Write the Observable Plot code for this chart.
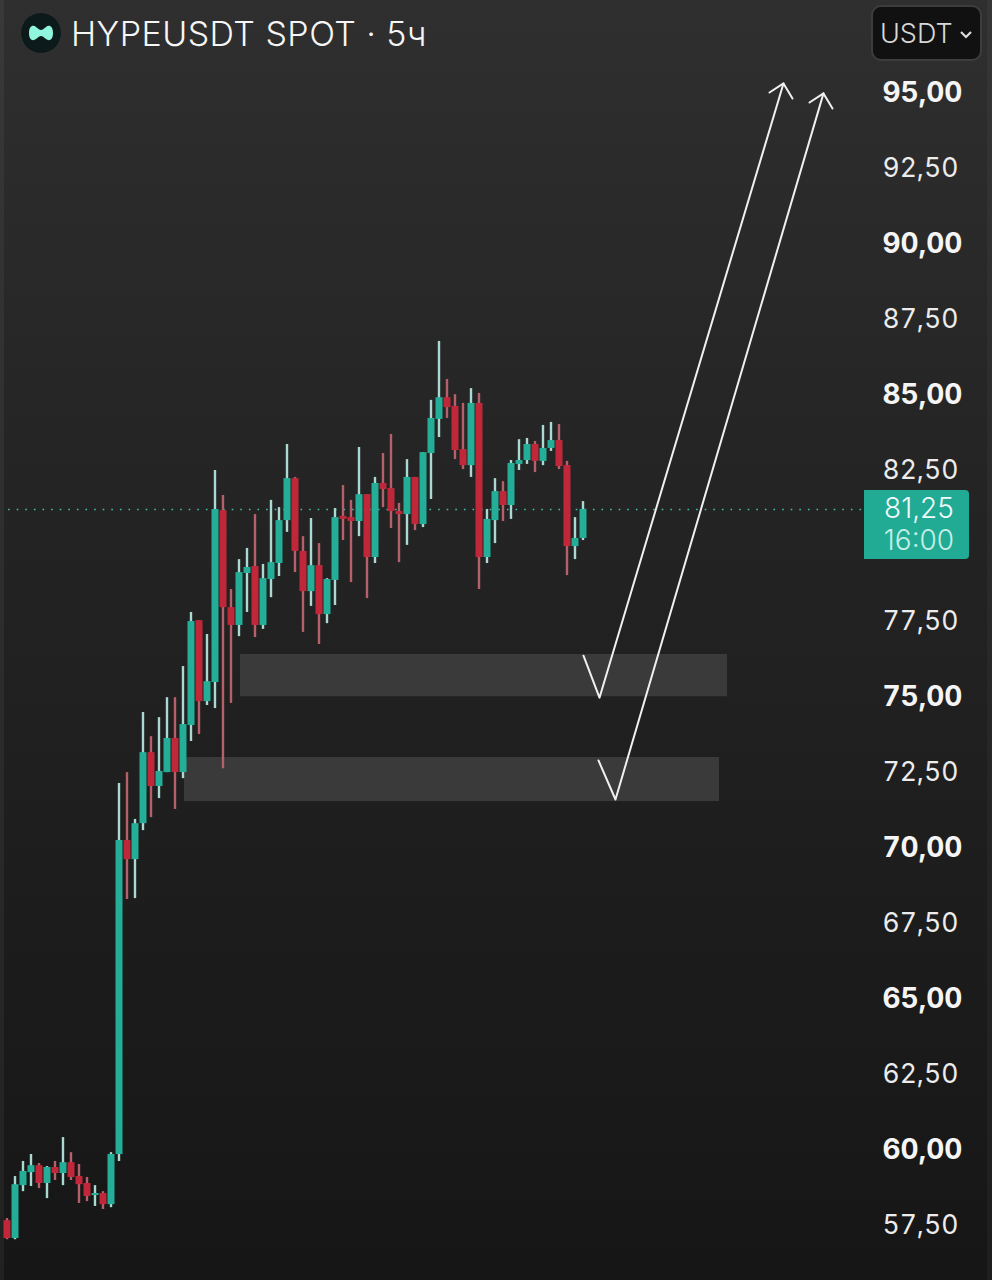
<!DOCTYPE html>
<html><head><meta charset="utf-8">
<script src="https://cdn.jsdelivr.net/npm/d3@7"></script>
<script src="https://cdn.jsdelivr.net/npm/@observablehq/plot@0.6"></script>
<style>
html,body{margin:0;padding:0;background:#1c1c1c}
#wrap{position:relative;width:992px;height:1280px;overflow:hidden;background:linear-gradient(180deg,#2f2f2f 0%,#262626 30%,#1f1f1f 60%,#161616 100%);font-family:Inter,"Noto Sans",sans-serif}
#chart svg{display:block;background:transparent!important}
.abs{position:absolute;white-space:nowrap}
</style></head><body>
<div id="wrap">
<div class="abs" style="left:0;top:0;width:4px;height:1280px;background:rgba(255,255,255,.05)"></div>
<div class="abs" style="left:987px;top:0;width:5px;height:1280px;background:rgba(255,255,255,.035)"></div>
<div id="chart" style="position:relative"></div>
<svg class="abs" style="left:20px;top:12px" width="42" height="42" viewBox="0 0 42 42"><circle cx="21" cy="21" r="20.5" fill="#0d1a1c" stroke="#333" stroke-width="1"/><path d="M9 21C9 14 13 12.500 16 15C18.500 17 19.500 18 21 18C22.500 18 23.500 17 26 15C29 12.500 33 14 33 21C33 28 29 29.500 26 27C23.500 25 22.500 24 21 24C19.500 24 18.500 25 16 27C13 29.500 9 28 9 21Z" fill="#8ff5dc"/></svg>
<div class="abs" id="title" style="left:71px;top:13px;font-size:34px;line-height:42px;font-weight:300;letter-spacing:.45px;color:#f6f6f6">HYPEUSDT SPOT · 5ч</div>
<div class="abs" style="left:871px;top:5px;width:107px;height:52px;background:#111;border:2px solid #3d3d3d;border-radius:10px;color:#d8d8d8;font-size:27px;line-height:54px;box-sizing:content-box;font-weight:300"><span style="margin-left:7px">USDT</span><svg style="position:absolute;left:86px;top:23px" width="14" height="10" viewBox="0 0 14 10"><path d="M2 2L7 7L12 2" fill="none" stroke="#ddd" stroke-width="2.2"/></svg></div>
<div class="abs" style="left:864px;top:490px;width:105px;height:69px;background:#22ab94;border-radius:0 4px 4px 0;text-align:center">
<div style="font-size:28px;line-height:34px;color:#f2fbf9;padding-top:1px;font-weight:300;margin-left:5px">81,25</div>
<div style="font-size:28px;line-height:30px;color:#c5efe6;font-weight:300;margin-left:5px">16:00</div></div>
</div>
<script>
const open=[57.66,57.07,58.82,59.25,59.48,58.89,59.42,59.22,59.58,59.12,58.89,58.49,58.56,58.19,59.85,70.24,69.61,70.80,73.15,72.03,72.49,73.62,72.49,74.05,77.52,74.84,75.47,81.16,77.95,77.36,79.08,79.31,77.36,78.88,79.41,80.83,82.22,79.81,78.48,79.34,77.72,78.85,80.97,80.93,80.80,81.69,79.61,82.06,81.89,81.13,81.03,82.26,80.70,83.05,84.18,84.90,84.61,83.18,82.65,84.71,79.61,80.83,81.79,81.33,82.69,82.82,83.35,82.79,83.22,83.48,82.65,79.97,80.24];
const high=[57.73,59.12,59.62,59.85,59.55,59.45,59.62,60.41,59.91,59.52,59.09,58.82,58.62,59.91,72.13,72.49,70.94,74.48,73.68,74.31,74.97,74.97,76.00,77.79,77.52,77.06,82.49,81.66,78.55,79.54,79.91,81.03,79.38,81.50,81.26,83.35,82.26,80.30,80.90,80.07,78.91,81.23,81.99,81.50,83.25,81.69,82.26,83.05,83.68,81.40,82.85,82.26,83.08,84.81,86.76,85.50,85.00,84.71,85.20,85.04,81.20,82.22,82.12,82.82,83.51,83.55,83.45,83.98,84.08,84.01,82.79,80.93,81.46];
const low=[57.03,57.03,58.62,58.79,58.72,58.39,58.99,58.82,58.99,58.23,58.29,58.13,58.03,58.09,59.62,68.29,68.32,70.57,71.00,71.63,72.49,71.27,72.29,73.52,73.75,74.71,74.61,72.62,74.78,76.99,77.79,76.96,77.23,78.28,78.98,80.44,79.11,77.13,77.99,76.73,77.42,78.02,80.17,78.78,80.30,78.25,79.41,81.26,80.57,79.44,80.01,80.50,80.60,81.53,83.58,84.21,82.85,82.52,82.26,78.55,79.41,80.07,80.80,80.87,82.49,82.69,82.42,82.65,83.12,82.52,79.01,79.54,80.17];
const close=[57.07,58.85,59.29,59.48,58.89,59.42,59.22,59.58,59.09,58.85,58.46,58.56,58.19,59.85,70.24,69.61,70.80,73.15,72.03,72.53,73.62,72.49,74.08,77.49,74.84,75.50,81.20,77.95,77.36,79.11,79.28,77.36,78.91,79.44,80.83,82.22,79.81,78.48,79.34,77.72,78.88,80.93,80.87,80.80,81.69,79.61,82.06,81.86,81.13,81.03,82.26,80.70,83.08,84.21,84.90,84.57,83.15,82.65,84.71,79.61,80.87,81.79,81.33,82.72,82.82,83.35,82.79,83.22,83.48,82.62,79.97,80.24,81.20];
const majorTicks=[60,65,70,75,85,90,95];
const minorTicks=[57.5,62.5,67.5,72.5,77.5,82.5,87.5,92.5];
const lastPrice=81.2;
const zones=[{x1:29.19,x2:90.06,y1:75.0,y2:76.4},{x1:22.19,x2:89.06,y1:71.53,y2:72.99}];
const arrowPaths=[
 {id:"a",x:[72.06,74.06,97.06],y:[76.36,74.97,95.30]},
 {id:"ah",x:[95.31,97.06,98.19],y:[95.00,95.30,94.80]},
 {id:"b",x:[73.94,76.06,102.06],y:[72.89,71.60,94.97]},
 {id:"bh",x:[100.31,102.06,103.19],y:[94.67,94.97,94.47]}
];
const candles=open.map((o,i)=>({i,o,h:high[i],l:low[i],c:close[i],up:close[i]>=o}));
const arrowPts=arrowPaths.flatMap(p=>p.x.map((x,k)=>({id:p.id,x,y:p.y[k]})));
const fmt=v=>v.toFixed(2).replace(".",",");
const plot=Plot.plot({
 width:992,height:1280,marginTop:0,marginBottom:0,marginLeft:0,marginRight:110,
 style:{background:"transparent",fontFamily:"Inter, 'Noto Sans', sans-serif"},
 x:{domain:[0,72],range:[6.5,582.5],axis:null},
 y:{domain:[57.5,95],range:[1225,92],axis:null},
 marks:[
  Plot.rect(zones,{x1:"x1",x2:"x2",y1:"y1",y2:"y2",fill:"#3a3a3a"}),
  Plot.ruleY([lastPrice],{x1:0.2,x2:106.9,stroke:"#45c0aa",strokeWidth:1.6,strokeDasharray:"1.6 7"}),
  Plot.ruleX(candles,{x:"i",y1:"l",y2:"h",stroke:d=>d.up?"#a9d9d1":"#b5606b",strokeWidth:2.4}),
  Plot.ruleX(candles,{x:"i",y1:"o",y2:"c",stroke:d=>d.up?"#24ae97":"#c0283a",strokeWidth:7}),
  Plot.line(arrowPts,{x:"x",y:"y",z:"id",stroke:"#f0f0f0",strokeWidth:2,curve:"linear"}),
  Plot.axisY({anchor:"right",ticks:minorTicks,tickSize:0,tickPadding:0,tickFormat:fmt,fontSize:26.5,fontWeight:400,dy:0.5,fill:"#ececec",label:null}),
  Plot.axisY({anchor:"right",ticks:majorTicks,tickSize:0,tickPadding:0,tickFormat:fmt,fontSize:28,fontWeight:700,dy:0.5,fill:"#f5f5f5",label:null})
 ]
});
document.getElementById("chart").appendChild(plot);
</script>
</body></html>
